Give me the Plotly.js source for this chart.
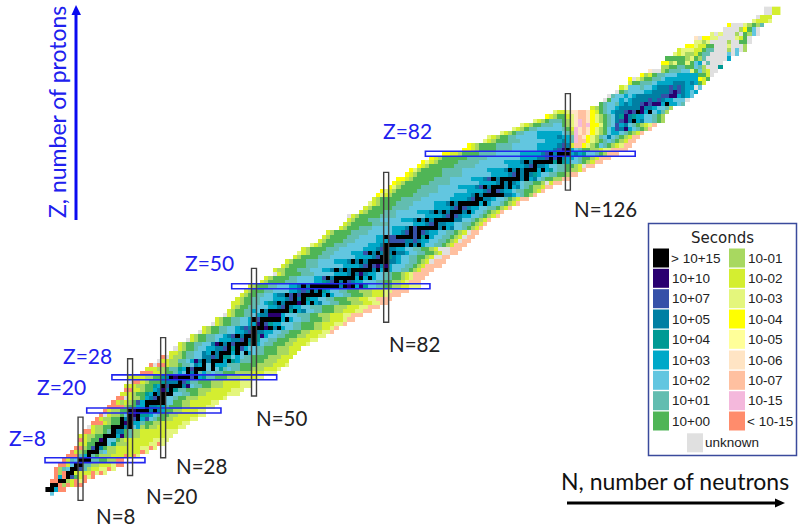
<!DOCTYPE html>
<html><head><meta charset="utf-8">
<script src="https://cdn.plot.ly/plotly-3.0.1.min.js"></script>
<style>html,body{margin:0;padding:0;background:#fff;overflow:hidden}</style>
</head><body><div id="chart" style="width:799px;height:529px"></div>
<script>
// half-life classes: one letter each
const classLetters = "ABCDEFGHIJKLMNOPQRS";
const classLabels = ["> 10+15","10+10","10+07","10+05","10+04","10+03","10+02","10+01","10+00",
                     "10-01","10-02","10-03","10-04","10-05","10-06","10-07","10-15","< 10-15","unknown"];
const classColours = ["#000000","#2a0070","#3550a8","#007fa3","#009a94","#00a8c8","#62c6e0","#62bdb0","#4fb556",
                      "#a8d860","#d4ee30","#e4f67c","#ffff00","#ffff99","#ffe4c4","#ffc0a0","#f4b8dc","#ff8c6c","#e0e0e0"];
// index = Z; each entry = first N of the row
const firstN = [1,0,1,1,2,2,2,3,4,5,6,7,8,8,8,9,10,11,12,13,14,15,16,17,18,19,19,20,20,23,24,25,27,28,30,31,32,34,35,37,
  38,40,41,43,44,45,45,46,47,48,49,52,53,55,55,57,58,60,61,62,64,66,67,68,71,72,73,73,76,77,78,79,80,81,83,84,85,87,88,90,
  91,93,96,101,102,106,107,110,113,115,118,121,123,132,134,135,136,138,139,141,141,144,146,149,149,150,152,153,155,157,157,161,164,165,171,172,174,174];
// index = Z; half-life class of each cell, from firstN onwards
const rowCells = ["G","AAFRR","AARJRKRR","RRAAJKRLR","RFRACIKRLR","RJRAAKKKKRLRL","RJHGAACHJKKLLRL","RRKGAAHHJJKKKLRR",
 "RKHGAAAHHIIJJRR","RRRHFAHIJJJKKKRKRL","RKJIAAAHGJJKKKKKKRL","RRJICADIJJKKKKKKLLRL","KKIIAAAGEJJJKKKKKLLRL",
 "RKJIIBAGGIJKKKKKKKLLLL","KKJJIIAAAFBIHJJKKKKKKLL","RRKJJIHADDIHJJKKKKKKLLL","SKJJIIAAADAGFJIJJKKKKKLL",
 "RRRKJIIABAFFHIIJJKKKKKLL","RKJJIIADACAFCGHIIJJKKKKLL","RSKJJIGABAEEFGHIIJJKKKKKLL","RKJJIIABAAADADFIIJJKKKKLL",
 "RRRRJIIFFADDEFHIIIJJKKKKLL","RKJKJICFAAAAAGGIIJJKKKKKLL","RRSKJJIFDCAAGGHIIJJJKKKKKKL","KKKJIIEFADAAAGGHHIIJJKKKKKLLL",
 "RRKKJIIFDBDAEHHIIIJJJKKKKKLLL","KKKJJIIEFACAAADBGHHIIJJJKKKKLLL","SRRKJIIIEDDDACEHHIIIJJJKKKKLLL","KKKKJJIIEDABAAACAFEHHIIIJJJKKKKLL",
 "RRRKKJIIHFGADAHFHGHHIIIJJJJKKKLLL","KKKJJIHHEFACAAAGAGEHGHHIIIJJJKKKL","RSRRKJJIHHGDFAGAFFFHHHIIIIJJJJKKKL",
 "SKKJJHHGFBDADAAAFAEFHHHIIIJJJKKK","RSKJJIHHGGDDCDAEEGFGHHIIIIJJJKKK","KKJIHHGGDFADAAAFAGAFGHHIIIJJJKK",
 "SKJIIHGGFFDDCAEACFGGHHIIIJJJKKK","KJIIHHGGDBADACAAAEAFGHHIIIJJKKKL","SKJIIHHGFFFDDCADAEGGHHIIIJJKKKLL",
 "KJIIHHGGFDCADAAAEBFGGHHIIIJJKKKLL","SKJIIHHGGFFDCADDFFGGHHIIIJJKKKLLP","KJIIHHGGFDCDAAABADAFGGHHIIIJJKKLP",
 "SKJIIHHGGFFBACEFFGGGHHIIIJJKKKLLP","KJIIHHGGFACAAAAAFAFGGHHIIIJJKKKLPP","SKJIIHHGFDDBBBFGGGHHHIIJJJKKKLLPPP",
 "KJIIHHFGADAAAAAEAFDGGHHIIIJJKKKLLPP","KJIIHHGGGFFDCADFFGGHHHIIIJJJKKKLLPPP","KKJIIHHGFEDADAAABAFAFDGGHHIIIJJJKKLLPP",
 "KJIIHHGGGFFFDCADAEFFGGHHIIIJJJKKLLPPPP","KJIIHHGGFDDACACAAAAAFAFGGHHIIIJJKKKLPPP","KJIIIHHGGGGFFDCDADAEFGGHHIIIJJJKKKLLPPPP",
 "KJIIIHHGGGFFDADAAAAAAADABAFBEGGHHIIJJKKLLL","KJIIIIHHHGGGGFFEDCADACDFFGGGHHIIJJKLPPP","KJIIIIHHGGGGFFCADAAAAAFAFAFGGHHIIJKLPPP",
 "SKJIIIIHHHGGGGGFFFDADBDFFGGHHIIJKLPPPP","KJJIIIHHHGGGFFDADADAAAAADAFAFGGHHIJKPPP","KJIIIIHHHGGGGGGFFFFDCACBDBFGGGHHIJKPPPP",
 "KJIIIHHHGGGGFFFDADADAAAAADDFGGHHIJKSPPP","KJIIIIHHHGGGGGGFFFFDCAAEDFGGHHIIJKSSPP","LKJIIIHHHGGGGFFFCADADADADDFGGHHIIJKSSPP",
 "KJIIIIHHHGGGGGGFFFDCADDFFGGHHIIJKSSSPPP","LKJIIIHHHGGGGGFFFDAAAAADADAFGGHHIJKPPP","KJIIIIHHHGGGGGFFFCCCCDDCDFFGGHHIJKSPP",
 "KJIIIIHHHGGGGFFACCAAAACAEAFGGHHIJKSPP","KJIIIIHHHHGGGGGGFFDCACACDFFGGHHIJKSPP","KJIIIHHHGGGGGFFFDACAAAAADAFDGGHIJKP",
 "KJIIIIIHHHHGGGGGGFFFDCADDFFGGHHIJKP","KJIIIHHHGGGGGFFFDADADAAAAADDGGHIJKP","SKJIIIIIHHHHGGGGGGGFFFFDCACDFFGGHIJKP",
 "KJIIIIHHHGGGGGFFFDADADAAADAFGGHIJKP","KJIIIIIHHHHGGGGGGFFFFDCACDFFGGHHIJKP","LKJIIIIHHHHGGGGGFFFDADAAAAAFAFGGHIJKP",
 "KJIIIIIHHHHHGGGGGGGFFFFDCAADDFGGHIJKPP","MLKJIIIIIHHHHGGGGGGFFFFDADAAAAADDFGHIJP","MLKJIIIIIHHHHHGGGGGGGFFFFDCACDFFGHHIIJKP",
 "MLJIIIIIHHHHGGGGGFFFFDCADAAADAFDGHIJJKPP","MKJIIIIIIHHHHHGGGGGGGFFFFDADADFGHHIIJSKPP","MMKJIIIIIHHHHGGGGGFFFDCADAAAAADAFDGHIIJJPP",
 "MKJIIIIIIHHHHHGGGGGGGFFFFDCADADEFGGHHIIJPP","MLJIIIIIHHHHHGGGGGGFFFFDADADAAAFAFEGHHIJJKP","MKJIIIIIIHHHHHGGGGGGGGFFFFDCADDFGGHHIIJKSPP",
 "MLKJIIIIIHHHHHGGGGGGFFFFDADAAAAAEAEFGGHIJKPP","MKJIIIIIIHHHHHGGGGGGGGFFFFDDCACADFFGHIIJKPPP","MMKKJIIIIHHHHGGGGGGFFFFFDCADAAAFDFEGGHIJPPP",
 "MMKJIIIIHHHHGGGGGGFFFFDCBAFGHIIJJKLLPPPP","MKJIIIIHHHHGGGGGGFFFFFDCDKPPMLJIGHIJKLPP","LKJIIIHHHGGGGGGFFFFDFHQPPMLJIHGHIJKPP",
 "LKJIIHHGGGGGFFFFFDFFHQPOMLJHGDGHIJKPP","LKJIHHGGGFFFFFFGHJQOPOMLJIGFFGHIJKP","LKJIHHGGGGGGHIKQOPOMLJIGFCDBFGHIJP",
 "LKJIIHHHGGIJLOQPQMMLIHGCFDGHIJKLP","LKJIHHHIJLOQPOMLJIHGDCBDAFDGGHIJ","MKJIIKLOPPOMLJIHGDEBDEFFGGHIJ",
 "LKKLOOPPOMKIHGFDDCBCABFAGFHJ","KJIHGGFDDDDDBDDFGGHJ","IHGGHFDFDDCBCBBFAFFGH","SIGGFGFDDDDCDCDFFGGGS","SHGGFGFDDDDDDCCBBFDFG",
 "SIHGGGGFFDDDDCBCDFGF","KLGGGHGGFDDDCDCDFFSG","KIIHHHGFFFFDDDFDFIK","MSLJIIHHGFFFFFFFFMKI","MJKIHHGGGFFFFFIIKS",
 "OSSJIHHHGGLIGJKSS","JJIIHHIIGHJSSSE","MMJLIILIGFSHSSS","IIIIIJLIJHSSSSSF","LKLJJKIHHSSSSGSG","KLLLKKIHHSSSJSGSJ",
 "MMLKKIISSSLSSSJ","LLJLSSSSJSSIIS","OSMMLLSSSSLKIS","LSLSSSJSIJGS","SSSSJMIGS","MSSSLJIJH","LKKKL","SKKK","SSKK","SSKK"];

// magic numbers and the extent of their boxes
const magicZ = [8,20,28,50,82];
const magicZFrom = [-0.6,9.5,15.6,44.6,91.5];
const magicZTo = [23.6,42,55.5,92.6,142.3];
const magicN = [8,20,28,50,82,126];
const magicNFrom = [-1.7,4.3,8.6,23.5,41.3,73.2];
const magicNTo = [18.4,32.5,37.6,54.3,77.5,96.5];
const zLabels = ["Z=8","Z=20","Z=28","Z=50","Z=82"];
const nLabels = ["N=8","N=20","N=28","N=50","N=82","N=126"];
const zLabelX = [27,61,87,209,408];
const zLabelY = [437,386,355,262,130];
const nLabelX = [115,171,201,281,415,605];
const nLabelY = [516,496,466,418,344,209];

const Nmax = 178, Zmax = rowCells.length;
const xVals = Array.from({length:Nmax},(_,i)=>i);
const yVals = Array.from({length:Zmax},(_,i)=>i);
const zGrid = yVals.map(()=>xVals.map(()=>null));
rowCells.forEach((s,Z)=>{ [...s].forEach((c,k)=>{ zGrid[Z][firstN[Z]+k]=classLetters.indexOf(c); }); });
const nC = classColours.length;
const colorscale = [];
classColours.forEach((c,i)=>{ colorscale.push([i/nC,c]); colorscale.push([(i+1)/nC,c]); });

const shapes = [], annotations = [];
const txt = (x,y,text,size,color,extra)=>annotations.push(Object.assign({xref:'paper',yref:'paper',
  x:x/799,y:1-y/529,text,showarrow:false,xanchor:'center',yanchor:'middle',
  font:{family:'Lato, "Open Sans", sans-serif',size,color}},extra||{}));
const px = (x0,y0,x1,y1)=>({xref:'paper',yref:'paper',x0:x0/799,x1:x1/799,y0:1-y0/529,y1:1-y1/529});

magicZ.forEach((z,i)=>shapes.push({type:'rect',xref:'x',yref:'y',x0:magicZFrom[i],x1:magicZTo[i],y0:z-0.6,y1:z+0.6,
  line:{color:'#2226f0',width:1.6},fillcolor:'rgba(0,0,0,0)'}));
magicN.forEach((n,i)=>shapes.push({type:'rect',xref:'x',yref:'y',x0:n-0.6,x1:n+0.6,y0:magicNFrom[i],y1:magicNTo[i],
  line:{color:'#404040',width:1.4},fillcolor:'rgba(0,0,0,0)'}));
zLabels.forEach((t,i)=>txt(zLabelX[i],zLabelY[i],t,21,'#2020ee'));
nLabels.forEach((t,i)=>txt(nLabelX[i],nLabelY[i],t,20.5,'#222222'));

// axis arrows
shapes.push(Object.assign({type:'line',line:{color:'#0a0af0',width:3}},px(76,220,76,12)));
shapes.push({type:'path',xref:'paper',yref:'paper',fillcolor:'#0a0af0',line:{width:0},
  path:`M ${71.5/799} ${1-15/529} L ${76/799} ${1-5/529} L ${81/799} ${1-15/529} Z`});
shapes.push(Object.assign({type:'line',line:{color:'#000000',width:3}},px(567,503,778,503)));
shapes.push({type:'path',xref:'paper',yref:'paper',fillcolor:'#000000',line:{width:0},
  path:`M ${775/799} ${1-498.5/529} L ${785/799} ${1-503/529} L ${775/799} ${1-507.5/529} Z`});
txt(57,112,'Z, number of protons',23,'#2020ee',{textangle:-90});
txt(675,481,'N, number of neutrons',23,'#111111');

// legend
shapes.push(Object.assign({type:'rect',line:{color:'#3a4a9c',width:1.5},fillcolor:'#ffffff'},px(648.5,223.5,796.5,455.5)));
const legendFont = '"Liberation Sans", Arial, sans-serif';
txt(722.5,238,'Seconds',15,'#222222',{font:{family:'"DejaVu Sans", sans-serif',size:15,color:'#222222'}});
const rowY = [258,278.3,298.7,319,339.3,360,380.3,400.7,421];
classLabels.forEach((label,i)=>{
  let sx,sy,sw=16,sh=19,tx;
  if(i<9){sx=653;sy=rowY[i];tx=i===0?671:672;}
  else if(i<18){sx=729;sy=rowY[i-9];tx=i===17?747:748;}
  else {sx=687;sy=442.8;tx=705;}
  shapes.push(Object.assign({type:'rect',line:{width:0},fillcolor:classColours[i]},px(sx,sy-sh/2,sx+sw,sy+sh/2)));
  annotations.push({xref:'paper',yref:'paper',x:tx/799,y:1-sy/529,text:label,showarrow:false,xanchor:'left',yanchor:'middle',
    xshift:-2,font:{family:legendFont,size:13.5,color:'#222222'}});
});

Plotly.newPlot('chart',[{type:'heatmap',x:xVals,y:yVals,z:zGrid,zmin:-0.5,zmax:nC-0.5,colorscale,showscale:false,
    hoverongaps:false,zsmooth:false}],
  {width:799,height:529,margin:{l:0,r:0,t:0,b:0},paper_bgcolor:'#fff',plot_bgcolor:'#fff',showlegend:false,
   xaxis:{range:[-11.50,181.96],visible:false,fixedrange:true},
   yaxis:{range:[-8.62,119.11],visible:false,fixedrange:true},
   shapes,annotations},
  {displayModeBar:false,staticPlot:true});
</script></body></html>
